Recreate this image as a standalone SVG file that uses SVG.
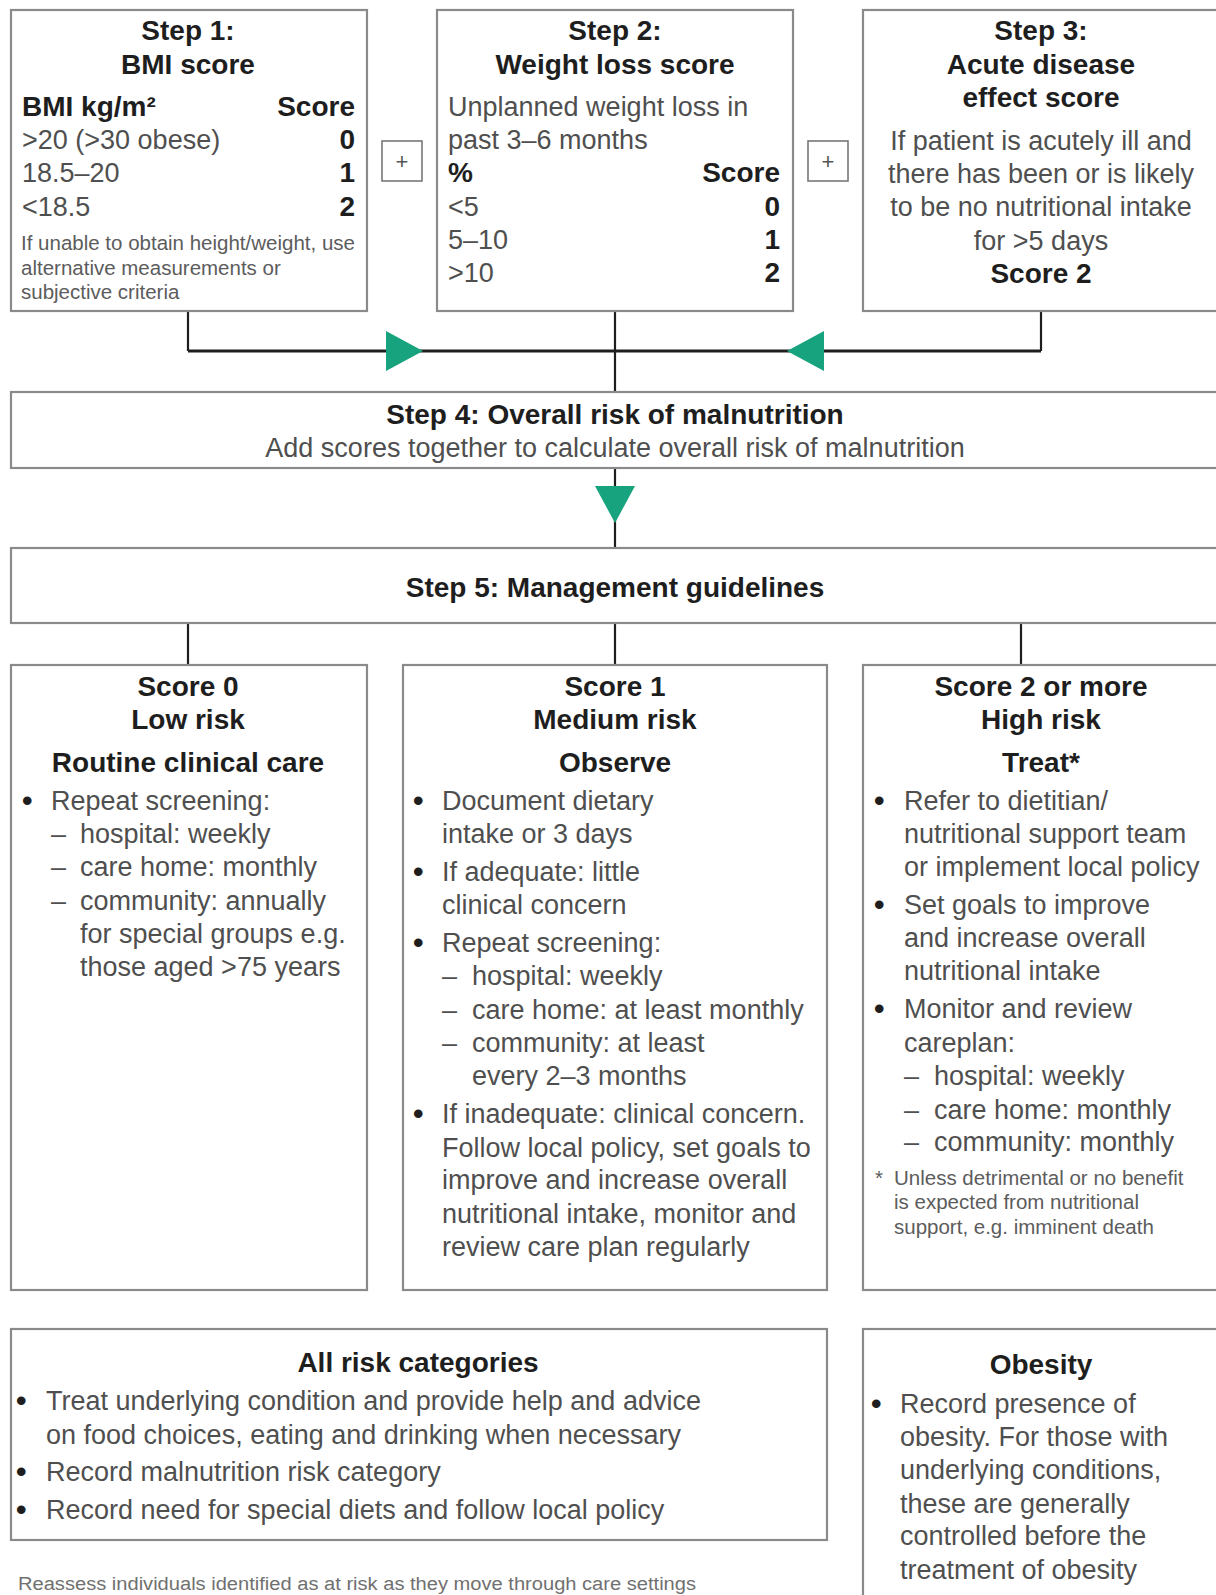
<svg xmlns="http://www.w3.org/2000/svg" width="1216" height="1595" viewBox="0 0 1216 1595">
  <style>
    .box { fill: #ffffff; stroke: #8a8a8a; stroke-width: 2.2; }
    .plus { fill: #ffffff; stroke: #777777; stroke-width: 1.6; }
    .b { font-family: "Liberation Sans", Arial, Helvetica, sans-serif; font-weight: bold; font-size: 28px; fill: #1e1e1e; }
    .r { font-family: "Liberation Sans", Arial, Helvetica, sans-serif; font-size: 27px; fill: #4f4f4f; }
    .s { font-family: "Liberation Sans", Arial, Helvetica, sans-serif; font-size: 20.5px; fill: #5c5c5c; }
    .f { font-family: "Liberation Sans", Arial, Helvetica, sans-serif; font-size: 18px; fill: #707070; }
    .dot { font-family: "Liberation Sans", Arial, Helvetica, sans-serif; font-size: 30px; font-weight: bold; fill: #1e1e1e; }
    .pl { font-family: "Liberation Sans", Arial, Helvetica, sans-serif; font-size: 22px; fill: #555555; text-anchor: middle; }
    .c { text-anchor: middle; }
    .e { text-anchor: end; }
    .line { stroke: #1e1e1e; fill: none; }
    .arrow { fill: #17a37d; }
  </style>
  <defs>
    <!-- arrowhead pointing right, tip at origin -->
    <polygon id="tri" points="-37,-20 -37,20 0,0"/>
  </defs>

  <rect width="1216" height="1595" fill="#ffffff"/>

  <!-- connectors -->
  <g id="connectors">
    <path class="line" stroke-width="2.2" d="M188 311 V351 M1041 311 V351 M615 311 V392"/>
    <path class="line" stroke-width="3" d="M188 351 H1041"/>
    <path class="line" stroke-width="2.2" d="M615 468 V548"/>
    <path class="line" stroke-width="2.2" d="M188 623 V665 M615 623 V665 M1021 623 V665"/>
    <use href="#tri" class="arrow" transform="translate(423 351)"/>
    <use href="#tri" class="arrow" transform="translate(787 351) rotate(180)"/>
    <use href="#tri" class="arrow" transform="translate(615 523) rotate(90)"/>
  </g>

  <!-- Step 1 -->
  <g id="step1">
    <rect class="box" x="11" y="10" width="356" height="301"/>
    <text class="b c" x="188" y="40">Step 1:</text>
    <text class="b c" x="188" y="74">BMI score</text>
    <text class="b" x="22" y="116">BMI kg/m²</text>
    <text class="b e" x="355" y="116">Score</text>
    <text class="r" x="22" y="149">&gt;20 (&gt;30 obese)</text>
    <text class="b e" x="355" y="149">0</text>
    <text class="r" x="22" y="182">18.5–20</text>
    <text class="b e" x="355" y="182">1</text>
    <text class="r" x="22" y="216">&lt;18.5</text>
    <text class="b e" x="355" y="216">2</text>
    <text class="s" x="21" y="250">If unable to obtain height/weight, use</text>
    <text class="s" x="21" y="275">alternative measurements or</text>
    <text class="s" x="21" y="299">subjective criteria</text>
  </g>

  <g id="plus1">
    <rect class="plus" x="382" y="141" width="40" height="40"/>
    <text class="pl" x="402" y="169">+</text>
  </g>

  <!-- Step 2 -->
  <g id="step2">
    <rect class="box" x="437" y="10" width="356" height="301"/>
    <text class="b c" x="615" y="40">Step 2:</text>
    <text class="b c" x="615" y="74">Weight loss score</text>
    <text class="r" x="448" y="116">Unplanned weight loss in</text>
    <text class="r" x="448" y="149">past 3–6 months</text>
    <text class="b" x="448" y="182">%</text>
    <text class="b e" x="780" y="182">Score</text>
    <text class="r" x="448" y="216">&lt;5</text>
    <text class="b e" x="780" y="216">0</text>
    <text class="r" x="448" y="249">5–10</text>
    <text class="b e" x="780" y="249">1</text>
    <text class="r" x="448" y="282">&gt;10</text>
    <text class="b e" x="780" y="282">2</text>
  </g>

  <g id="plus2">
    <rect class="plus" x="808" y="141" width="40" height="40"/>
    <text class="pl" x="828" y="169">+</text>
  </g>

  <!-- Step 3 -->
  <g id="step3">
    <rect class="box" x="863" y="10" width="400" height="301"/>
    <text class="b c" x="1041" y="40">Step 3:</text>
    <text class="b c" x="1041" y="74">Acute disease</text>
    <text class="b c" x="1041" y="107">effect score</text>
    <text class="r c" x="1041" y="150">If patient is acutely ill and</text>
    <text class="r c" x="1041" y="183">there has been or is likely</text>
    <text class="r c" x="1041" y="216">to be no nutritional intake</text>
    <text class="r c" x="1041" y="250">for &gt;5 days</text>
    <text class="b c" x="1041" y="283">Score 2</text>
  </g>

  <!-- Step 4 -->
  <g id="step4">
    <rect class="box" x="11" y="392" width="1250" height="76"/>
    <text class="b c" x="615" y="424">Step 4: Overall risk of malnutrition</text>
    <text class="r c" x="615" y="457">Add scores together to calculate overall risk of malnutrition</text>
  </g>

  <!-- Step 5 -->
  <g id="step5">
    <rect class="box" x="11" y="548" width="1250" height="75"/>
    <text class="b c" x="615" y="597">Step 5: Management guidelines</text>
  </g>

  <!-- Score 0 -->
  <g id="score0">
    <rect class="box" x="11" y="665" width="356" height="625"/>
    <text class="b c" x="188" y="696">Score 0</text>
    <text class="b c" x="188" y="729">Low risk</text>
    <text class="b c" x="188" y="772">Routine clinical care</text>
    <text class="dot" x="22" y="811">•</text>
    <text class="r" x="51" y="810">Repeat screening:</text>
    <text class="r" x="51" y="843">–</text>
    <text class="r" x="80" y="843">hospital: weekly</text>
    <text class="r" x="51" y="876">–</text>
    <text class="r" x="80" y="876">care home: monthly</text>
    <text class="r" x="51" y="910">–</text>
    <text class="r" x="80" y="910">community: annually</text>
    <text class="r" x="80" y="943">for special groups e.g.</text>
    <text class="r" x="80" y="976">those aged &gt;75 years</text>
  </g>

  <!-- Score 1 -->
  <g id="score1">
    <rect class="box" x="403" y="665" width="424" height="625"/>
    <text class="b c" x="615" y="696">Score 1</text>
    <text class="b c" x="615" y="729">Medium risk</text>
    <text class="b c" x="615" y="772">Observe</text>
    <text class="dot" x="413" y="811">•</text>
    <text class="r" x="442" y="810">Document dietary</text>
    <text class="r" x="442" y="843">intake or 3 days</text>
    <text class="dot" x="413" y="882">•</text>
    <text class="r" x="442" y="881">If adequate: little</text>
    <text class="r" x="442" y="914">clinical concern</text>
    <text class="dot" x="413" y="953">•</text>
    <text class="r" x="442" y="952">Repeat screening:</text>
    <text class="r" x="442" y="985">–</text>
    <text class="r" x="472" y="985">hospital: weekly</text>
    <text class="r" x="442" y="1019">–</text>
    <text class="r" x="472" y="1019">care home: at least monthly</text>
    <text class="r" x="442" y="1052">–</text>
    <text class="r" x="472" y="1052">community: at least</text>
    <text class="r" x="472" y="1085">every 2–3 months</text>
    <text class="dot" x="413" y="1124">•</text>
    <text class="r" x="442" y="1123">If inadequate: clinical concern.</text>
    <text class="r" x="442" y="1157">Follow local policy, set goals to</text>
    <text class="r" x="442" y="1189">improve and increase overall</text>
    <text class="r" x="442" y="1223">nutritional intake, monitor and</text>
    <text class="r" x="442" y="1256">review care plan regularly</text>
  </g>

  <!-- Score 2 or more -->
  <g id="score2">
    <rect class="box" x="863" y="665" width="400" height="625"/>
    <text class="b c" x="1041" y="696">Score 2 or more</text>
    <text class="b c" x="1041" y="729">High risk</text>
    <text class="b c" x="1041" y="772">Treat*</text>
    <text class="dot" x="874" y="811">•</text>
    <text class="r" x="904" y="810">Refer to dietitian/</text>
    <text class="r" x="904" y="843">nutritional support team</text>
    <text class="r" x="904" y="876">or implement local policy</text>
    <text class="dot" x="874" y="915">•</text>
    <text class="r" x="904" y="914">Set goals to improve</text>
    <text class="r" x="904" y="947">and increase overall</text>
    <text class="r" x="904" y="980">nutritional intake</text>
    <text class="dot" x="874" y="1019">•</text>
    <text class="r" x="904" y="1018">Monitor and review</text>
    <text class="r" x="904" y="1052">careplan:</text>
    <text class="r" x="904" y="1085">–</text>
    <text class="r" x="934" y="1085">hospital: weekly</text>
    <text class="r" x="904" y="1119">–</text>
    <text class="r" x="934" y="1119">care home: monthly</text>
    <text class="r" x="904" y="1151">–</text>
    <text class="r" x="934" y="1151">community: monthly</text>
    <text class="s" x="875" y="1185">*</text>
    <text class="s" x="894" y="1185">Unless detrimental or no benefit</text>
    <text class="s" x="894" y="1209">is expected from nutritional</text>
    <text class="s" x="894" y="1234">support, e.g. imminent death</text>
  </g>

  <!-- All risk categories -->
  <g id="allrisk">
    <rect class="box" x="11" y="1329" width="816" height="211"/>
    <text class="b c" x="418" y="1372">All risk categories</text>
    <text class="dot" x="16" y="1411">•</text>
    <text class="r" x="46" y="1410">Treat underlying condition and provide help and advice</text>
    <text class="r" x="46" y="1444">on food choices, eating and drinking when necessary</text>
    <text class="dot" x="16" y="1482">•</text>
    <text class="r" x="46" y="1481">Record malnutrition risk category</text>
    <text class="dot" x="16" y="1520">•</text>
    <text class="r" x="46" y="1519">Record need for special diets and follow local policy</text>
  </g>

  <!-- Obesity -->
  <g id="obesity">
    <rect class="box" x="863" y="1329" width="400" height="300"/>
    <text class="b c" x="1041" y="1374">Obesity</text>
    <text class="dot" x="871" y="1414">•</text>
    <text class="r" x="900" y="1413">Record presence of</text>
    <text class="r" x="900" y="1446">obesity. For those with</text>
    <text class="r" x="900" y="1479">underlying conditions,</text>
    <text class="r" x="900" y="1513">these are generally</text>
    <text class="r" x="900" y="1545">controlled before the</text>
    <text class="r" x="900" y="1579">treatment of obesity</text>
  </g>

  <text class="f" x="18" y="1590" textLength="678" lengthAdjust="spacingAndGlyphs">Reassess individuals identified as at risk as they move through care settings</text>
</svg>
